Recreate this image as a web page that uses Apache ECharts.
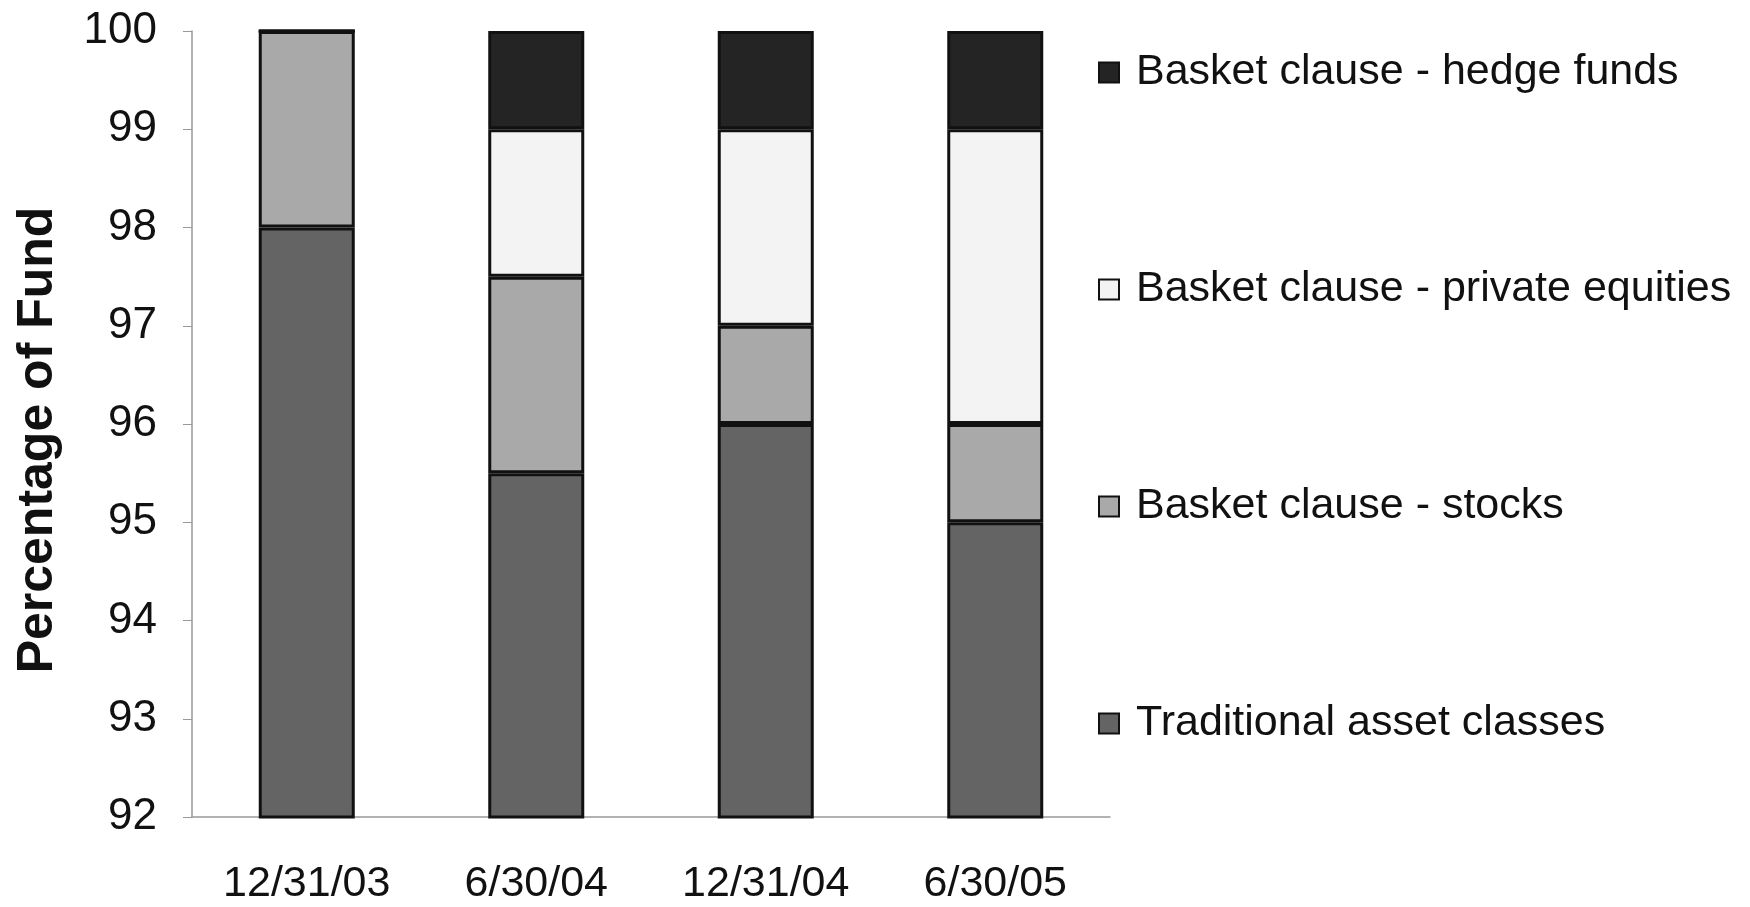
<!DOCTYPE html>
<html>
<head>
<meta charset="utf-8">
<script src="https://cdn.jsdelivr.net/npm/echarts@6/dist/echarts.min.js"></script>
<style>
  html, body { margin: 0; padding: 0; background: #fff; }
  #main { width: 1750px; height: 907px; }
</style>
</head>
<body>
<div id="main"></div>
<script>
// dates on the x axis
const categories = ['12/31/03', '6/30/04', '12/31/04', '6/30/05'];

// percentage of fund, stacked bottom to top
const traditionalAssets = [98, 95.5, 96, 95];
const basketStocks = [2, 2, 1, 1];
const basketPrivateEquities = [0, 1.5, 2, 3];
const basketHedgeFunds = [0, 1, 1, 1];

const yTicks = [92, 93, 94, 95, 96, 97, 98, 99, 100];

const sans = '"Liberation Sans", Arial, sans-serif';

const chartDom = document.getElementById('main');
const myChart = echarts.init(chartDom);

const barStyle = (color) => ({
  color: color,
  borderColor: '#111',
  borderWidth: 3,
});

const option = {
  animation: false,
  backgroundColor: '#fff',
  grid: {
    left: 192,
    right: 640,
    top: 31,
    bottom: 90,
    containLabel: false,
    outerBoundsMode: 'none',
  },
  legend: {
    orient: 'vertical',
    left: 1093,
    top: 46,
    itemGap: 174,
    itemWidth: 20,
    itemHeight: 20,
    icon: 'rect',
    data: [
      'Basket clause - hedge funds',
      'Basket clause - private equities',
      'Basket clause - stocks',
      'Traditional asset classes',
    ],
    textStyle: {
      color: '#111',
      fontFamily: sans,
      fontSize: 43,
      lineHeight: 43,
      padding: [0, 0, 0, 12],
    },
  },
  xAxis: {
    type: 'category',
    data: categories,
    axisLine: { lineStyle: { color: '#999', width: 1.5 } },
    axisTick: { length: 9, lineStyle: { color: '#999' } },
    axisLabel: {
      interval: 0,
      margin: 46,
      color: '#111',
      fontFamily: sans,
      fontSize: 43,
    },
  },
  yAxis: {
    type: 'value',
    min: yTicks[0],
    max: yTicks[yTicks.length - 1],
    interval: 1,
    name: 'Percentage of Fund',
    nameLocation: 'middle',
    nameGap: 129,
    nameTextStyle: {
      color: '#111',
      fontFamily: sans,
      fontWeight: 'bold',
      fontSize: 50,
      padding: [0, 32, 0, 0],
    },
    splitLine: { show: false },
    axisLine: { show: true, lineStyle: { color: '#999', width: 1.5 } },
    axisTick: { show: true, length: 9, lineStyle: { color: '#999' } },
    axisLabel: {
      margin: 35,
      color: '#111',
      fontFamily: sans,
      fontSize: 44,
    },
  },
  series: [
    {
      name: 'Traditional asset classes',
      type: 'bar',
      stack: 'fund',
      barWidth: 96,
      data: traditionalAssets,
      itemStyle: barStyle('#646464'),
    },
    {
      name: 'Basket clause - stocks',
      type: 'bar',
      stack: 'fund',
      barWidth: 96,
      data: basketStocks,
      itemStyle: barStyle('#a9a9a9'),
    },
    {
      name: 'Basket clause - private equities',
      type: 'bar',
      stack: 'fund',
      barWidth: 96,
      data: basketPrivateEquities,
      itemStyle: barStyle('#f3f3f3'),
    },
    {
      name: 'Basket clause - hedge funds',
      type: 'bar',
      stack: 'fund',
      barWidth: 96,
      data: basketHedgeFunds,
      itemStyle: barStyle('#242424'),
    },
  ],
};

myChart.setOption(option);
</script>
</body>
</html>
